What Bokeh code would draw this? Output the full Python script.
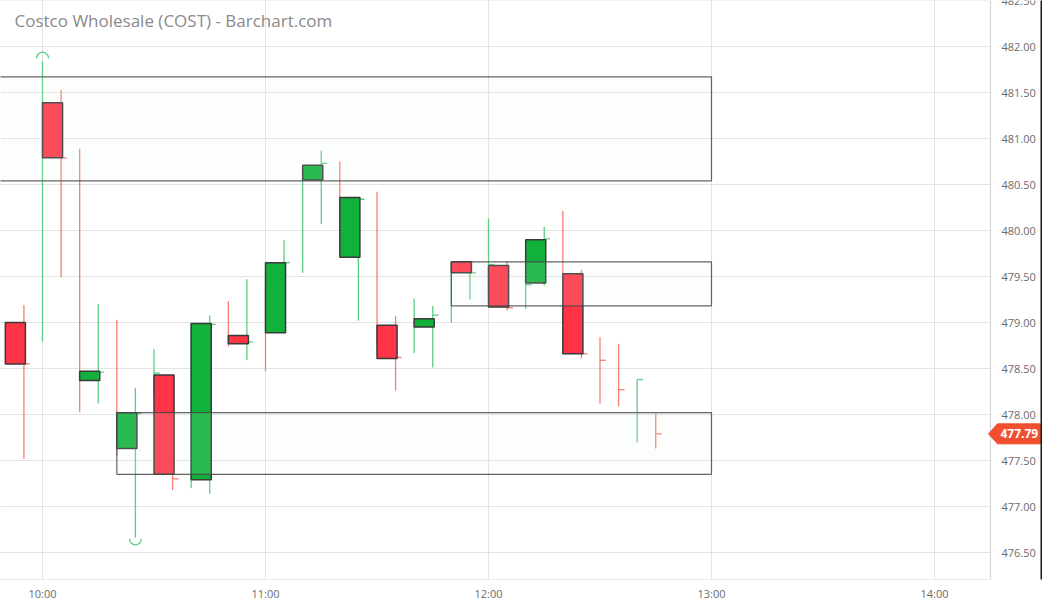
import numpy as np
import pandas as pd
from bokeh.plotting import figure
from bokeh.models import Range1d, FixedTicker, DatetimeTickFormatter, Label
from bokeh.core.properties import value
from bokeh.embed import file_html
from bokeh.resources import INLINE

# ---------------- data ----------------
DAY = "2024-03-01 "

# 5-minute bars (thin high-low lines with close tick)
bar_times = ["09:55", "10:00", "10:05", "10:10", "10:15", "10:20", "10:25", "10:30", "10:35",
             "10:40", "10:45", "10:50", "10:55", "11:00", "11:05", "11:10", "11:15", "11:20",
             "11:25", "11:30", "11:35", "11:40", "11:45", "11:50", "11:55", "12:00", "12:05",
             "12:10", "12:15", "12:20", "12:25", "12:30", "12:35", "12:40", "12:45"]
bar_dir = ["down", "up", "down", "down", "up", "down", "up", "up", "down",
           "up", "up", "down", "up", "down", "up", "up", "up", "down",
           "up", "down", "down", "up", "up", "up", "up", "up", "down",
           "up", "up", "down", "down", "down", "down", "up", "down"]
bar_high = [479.19, 481.84, 481.53, 480.89, 479.20, 479.03, 478.29, 478.71, 478.30,
            479.00, 479.08, 479.23, 479.47, 479.40, 479.90, 480.68, 480.87, 480.75,
            480.36, 480.42, 479.07, 479.26, 479.18, 479.65, 479.60, 480.13, 479.67,
            479.60, 480.04, 480.21, 479.57, 478.84, 478.77, 478.38, 478.01]
bar_low = [477.52, 478.79, 479.49, 478.03, 478.12, 477.55, 476.66, 478.20, 477.18,
           477.20, 477.14, 478.74, 478.59, 478.47, 479.00, 479.54, 480.07, 480.00,
           479.02, 478.75, 478.26, 478.67, 478.51, 479.00, 479.25, 479.30, 479.13,
           479.15, 479.40, 479.00, 478.61, 478.12, 478.09, 477.70, 477.63]
bar_close = [478.55, 481.00, 480.79, 478.42, 478.46, 477.80, 478.01, 478.45, 477.30,
             478.90, 478.98, 478.80, 478.79, 479.00, 479.65, 480.60, 480.73, 480.20,
             480.34, 478.85, 478.62, 479.00, 479.08, 479.60, 479.54, 479.63, 479.16,
             479.41, 479.91, 479.20, 478.66, 478.59, 478.27, 478.38, 477.79]

# 10-minute candle bodies
candle_times = ["09:50", "10:00", "10:10", "10:20", "10:30", "10:40", "10:50", "11:00",
                "11:10", "11:20", "11:30", "11:40", "11:50", "12:00", "12:10", "12:20"]
candle_open = [479.00, 481.39, 478.37, 477.63, 478.43, 477.29, 478.86, 478.89,
               480.55, 479.71, 478.97, 478.95, 479.66, 479.62, 479.43, 479.53]
candle_close = [478.55, 480.79, 478.47, 478.02, 477.35, 478.99, 478.77, 479.65,
                480.71, 480.36, 478.61, 479.04, 479.54, 479.17, 479.90, 478.66]

# highlighted zones
zone_start = ["09:40", "11:50", "10:20"]
zone_end = ["13:00", "13:00", "13:00"]
zone_top = [481.67, 479.66, 478.02]
zone_bottom = [480.54, 479.18, 477.35]

x_ticks = ["10:00", "11:00", "12:00", "13:00", "14:00"]
y_ticks = [476.5, 477.0, 477.5, 478.0, 478.5, 479.0, 479.5, 480.0, 480.5, 481.0, 481.5, 482.0, 482.5]

title_text = "Costco Wholesale (COST) - Barchart.com"

# ---------------- styling / layout ----------------
UP_BODY = "#12b13c"
DN_BODY = "#ff3446"
UP_LINE = "#5fcc86"
DN_LINE = "#f37f6f"
GRID = "#e3e3e3"
AXIS = "#d6d6d6"
LABEL = "#6b6b6b"
FONT = "Open Sans"
MARK = "#f0502f"

W, FH = 1042, 579          # frame covers full width; price scale drawn inside it
PLOT_RIGHT = 990           # pixel where the price scale starts
PX_PER_MIN = 223 / 60.0
ORIGIN_PX = 42             # pixel of 10:00
y_lo, y_hi = 476.207, 482.5
PRICE_PER_PX = (y_hi - y_lo) / FH


def ts(s):
    return pd.Timestamp(DAY + s)


def px_time(px):
    return ts("10:00") + pd.Timedelta(minutes=(px - ORIGIN_PX) / PX_PER_MIN)


x0, x1 = px_time(0), px_time(W)
x_edge = px_time(PLOT_RIGHT)

p = figure(x_axis_type="datetime", frame_width=W, frame_height=FH,
           min_border=0, min_border_left=0, min_border_top=0, min_border_right=0,
           min_border_bottom=0, x_range=Range1d(x0, x1), y_range=Range1d(y_lo, y_hi),
           toolbar_location=None, output_backend="svg")
p.outline_line_color = None
p.background_fill_color = "white"
p.border_fill_color = "white"
p.yaxis.visible = False
p.ygrid.visible = False

# vertical grid and time axis
x_tick_ms = [ts(t).value // 10**6 for t in x_ticks]
p.xaxis.ticker = FixedTicker(ticks=x_tick_ms)
p.xgrid.ticker = FixedTicker(ticks=x_tick_ms)
p.xgrid.grid_line_color = GRID
fmt = "%H:%M"
p.xaxis.formatter = DatetimeTickFormatter(milliseconds=fmt, seconds=fmt, minsec=fmt, minutes=fmt,
                                          hourmin=fmt, hours=fmt, days=fmt, months=fmt, years=fmt)
ax = p.xaxis[0]
ax.axis_line_color = None
ax.major_tick_line_color = None
ax.minor_tick_line_color = None
ax.major_tick_in = 0
ax.major_tick_out = 0
ax.major_label_text_color = LABEL
ax.major_label_text_font = FONT
ax.major_label_text_font_size = "11px"
ax.major_label_standoff = 6

# horizontal grid (stops at price scale)
p.segment(x0=[x0] * len(y_ticks), y0=y_ticks, x1=[x_edge] * len(y_ticks), y1=y_ticks,
          line_color=GRID, line_width=1)
# axis lines (bottom + price scale border)
p.segment(x0=[x0, x_edge], y0=[y_lo, y_lo], x1=[x_edge, x_edge], y1=[y_lo, y_hi],
          line_color=AXIS, line_width=1.2)

# price scale labels
p.text(x=[x_edge] * len(y_ticks), y=y_ticks, text=[f"{v:.2f}" for v in y_ticks],
       x_offset=11, text_font=value(FONT), text_font_size="11px", text_color=LABEL,
       text_baseline="middle", text_align="left")

# ---------------- marks ----------------
bt = [ts(t) for t in bar_times]
bcol = [UP_LINE if d == "up" else DN_LINE for d in bar_dir]
p.segment(x0=bt, y0=bar_low, x1=bt, y1=bar_high, line_color=bcol, line_width=1.3)
tick_len = pd.Timedelta(minutes=1.6)
p.segment(x0=bt, y0=bar_close, x1=[t + tick_len for t in bt], y1=bar_close,
          line_color=bcol, line_width=1.3)

# extreme markers (arcs)
i_hi = int(np.argmax(bar_high))
i_lo = int(np.argmin(bar_low))
p.arc(x=[bt[i_hi]], y=[bar_high[i_hi] + 3 * PRICE_PER_PX], radius=6, radius_units="screen",
      start_angle=0, end_angle=np.pi, line_color=UP_LINE if bar_dir[i_hi] == "up" else DN_LINE,
      line_width=1.3)
p.arc(x=[bt[i_lo]], y=[bar_low[i_lo] - 1 * PRICE_PER_PX], radius=6, radius_units="screen",
      start_angle=np.pi, end_angle=2 * np.pi,
      line_color=UP_LINE if bar_dir[i_lo] == "up" else DN_LINE, line_width=1.3)

# candle bodies
ct = [ts(t) for t in candle_times]
body_w = pd.Timedelta(minutes=5.4)
p.quad(left=ct, right=[t + body_w for t in ct],
       top=[max(o, c) for o, c in zip(candle_open, candle_close)],
       bottom=[min(o, c) for o, c in zip(candle_open, candle_close)],
       fill_color=[UP_BODY if c >= o else DN_BODY for o, c in zip(candle_open, candle_close)],
       line_color="#3a3a3a", line_width=1.5)

# zones
p.quad(left=[ts(t) for t in zone_start], right=[ts(t) for t in zone_end],
       top=zone_top, bottom=zone_bottom,
       fill_color="#eaf6f0", fill_alpha=0.12,
       line_color="#4a4a4a", line_alpha=0.85, line_width=1.2)

# last price marker
last = bar_close[-1]
hh = 10 * PRICE_PER_PX
p.patch(x=[px_time(988), px_time(997), px_time(1040), px_time(1040), px_time(997)],
        y=[last, last + hh, last + hh, last - hh, last - hh],
        fill_color=MARK, line_color=MARK, line_width=1)
p.text(x=[x_edge], y=[last], text=[f"{last:.2f}"], x_offset=10,
       text_font=value(FONT), text_font_size="12px", text_font_style="bold",
       text_color="white", text_baseline="middle", text_align="left")

# dark right border of the widget
p.quad(left=[px_time(1040)], right=[px_time(1043)], top=[y_hi + 1], bottom=[y_lo - 1],
       fill_color="#1a1a1a", line_color=None)

# title
p.add_layout(Label(x=14, y=FH - 20, x_units="screen", y_units="screen", text=title_text,
                   text_font=FONT, text_font_size="17px", text_color="#8a8a8a",
                   text_baseline="middle", text_align="left"))

html = file_html(p, INLINE, title="Costco Wholesale (COST)")
html = html.replace("<head>", "<head><style>html,body{margin:0;padding:0;overflow:hidden;}</style>", 1)
open("out.html", "w").write(html)
